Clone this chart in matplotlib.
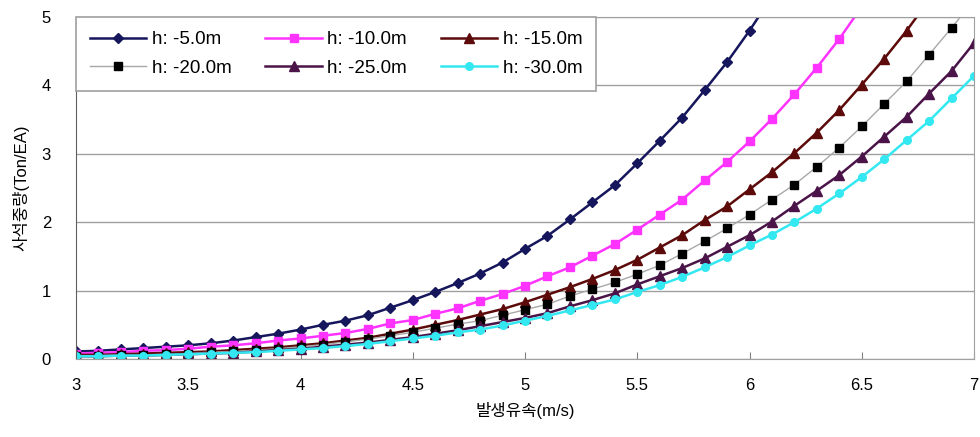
import matplotlib.pyplot as plt

plt.rcParams['font.family'] = ['Liberation Sans', 'Noto Sans CJK KR', 'DejaVu Sans']

x = [round(3.0 + 0.1 * i, 1) for i in range(41)]

h5 = [0.11, 0.12, 0.14, 0.16, 0.18, 0.20, 0.23, 0.27, 0.32, 0.37, 0.43,
      0.50, 0.56, 0.64, 0.75, 0.86, 0.98, 1.11, 1.25, 1.41, 1.61,
      1.80, 2.04, 2.29, 2.54, 2.86, 3.19, 3.53, 3.93, 4.34, 4.80, 5.30]
h10 = [0.08, 0.09, 0.10, 0.12, 0.13, 0.15, 0.18, 0.20, 0.23, 0.27, 0.30,
       0.34, 0.38, 0.44, 0.52, 0.57, 0.66, 0.74, 0.85, 0.95, 1.07,
       1.21, 1.34, 1.51, 1.68, 1.89, 2.11, 2.33, 2.61, 2.88, 3.18,
       3.51, 3.87, 4.26, 4.68, 5.15]
h15 = [0.06, 0.06, 0.07, 0.08, 0.09, 0.10, 0.11, 0.13, 0.15, 0.17, 0.20,
       0.23, 0.27, 0.31, 0.37, 0.43, 0.50, 0.57, 0.65, 0.73, 0.83,
       0.94, 1.05, 1.17, 1.30, 1.45, 1.63, 1.81, 2.03, 2.23, 2.48,
       2.73, 3.01, 3.31, 3.64, 4.01, 4.39, 4.80, 5.25]
h20 = [0.05, 0.05, 0.06, 0.06, 0.07, 0.08, 0.10, 0.11, 0.13, 0.15, 0.18,
       0.21, 0.25, 0.29, 0.34, 0.39, 0.45, 0.51, 0.56, 0.64, 0.72,
       0.80, 0.92, 1.02, 1.12, 1.24, 1.37, 1.54, 1.72, 1.91, 2.11,
       2.33, 2.55, 2.81, 3.09, 3.40, 3.73, 4.06, 4.45, 4.84, 5.25]
h25 = [0.04, 0.04, 0.05, 0.05, 0.06, 0.07, 0.08, 0.09, 0.11, 0.13, 0.15,
       0.18, 0.21, 0.24, 0.28, 0.32, 0.37, 0.42, 0.48, 0.54, 0.60,
       0.67, 0.77, 0.86, 0.96, 1.09, 1.21, 1.33, 1.47, 1.64, 1.81,
       2.01, 2.24, 2.46, 2.69, 2.96, 3.25, 3.54, 3.88, 4.21, 4.62]
h30 = [0.04, 0.04, 0.05, 0.05, 0.06, 0.07, 0.08, 0.09, 0.10, 0.12, 0.14,
       0.16, 0.19, 0.22, 0.26, 0.30, 0.34, 0.39, 0.43, 0.49, 0.56,
       0.63, 0.71, 0.79, 0.87, 0.98, 1.08, 1.20, 1.34, 1.49, 1.66,
       1.82, 2.00, 2.20, 2.42, 2.66, 2.92, 3.20, 3.48, 3.81, 4.14]

labels = ['h: -5.0m', 'h: -10.0m', 'h: -15.0m', 'h: -20.0m', 'h: -25.0m', 'h: -30.0m']

fig = plt.figure(figsize=(9.8, 4.37), dpi=100)
ax = fig.add_axes([76 / 980, 1 - 359 / 437, 898 / 980, 342 / 437])

l1, = ax.plot(x[:len(h5)], h5, color='#16165c', lw=1.8, marker='D', ms=5, label=labels[0])
l2, = ax.plot(x[:len(h10)], h10, color='#ff33ff', lw=1.8, marker='s', ms=5.5, label=labels[1])
l3, = ax.plot(x[:len(h15)], h15, color='#5c0a0a', lw=1.8, marker='^', ms=6.5, label=labels[2])
l4, = ax.plot(x[:len(h20)], h20, color='#a8a8a8', lw=1.0, marker='s', ms=6,
              mfc='black', mec='black', label=labels[3])
l5, = ax.plot(x[:len(h25)], h25, color='#4a1448', lw=1.8, marker='^', ms=6.5, label=labels[4])
l6, = ax.plot(x[:len(h30)], h30, color='#33e8f0', lw=1.8, marker='o', ms=5.5, label=labels[5])

ax.set_xlim(3, 7)
ax.set_ylim(0, 5)
ax.set_xticks([3, 3.5, 4, 4.5, 5, 5.5, 6, 6.5, 7])
ax.set_xticklabels(['3', '3.5', '4', '4.5', '5', '5.5', '6', '6.5', '7'])
ax.set_yticks([0, 1, 2, 3, 4, 5])
ax.yaxis.grid(True, color='#a0a0a0', lw=1)
ax.set_axisbelow(True)
ax.tick_params(axis='x', direction='in', length=5, color='#808080', labelsize=12, pad=14)
ax.tick_params(axis='y', length=0, labelsize=12, pad=18)
for s in ax.spines.values():
    s.set_color('#a0a0a0')
ax.spines['left'].set_color('#606060')

ax.set_xlabel('발생유속(m/s)', fontsize=12, labelpad=6)
ax.set_ylabel('사석중량(Ton/EA)', fontsize=12, labelpad=9)

# row-wise legend order like the original
handles = [l1, l4, l2, l5, l3, l6]
leg = ax.legend(handles, [h.get_label() for h in handles], loc='upper left', ncol=3,
                fontsize=13.5, frameon=True, fancybox=False, edgecolor='#a0a0a0',
                framealpha=1, borderaxespad=0, handlelength=3, columnspacing=1.8,
                borderpad=0.75, labelspacing=0.6, handletextpad=0.3)
leg.get_frame().set_linewidth(1.2)

plt.savefig('out.png', dpi=100)
